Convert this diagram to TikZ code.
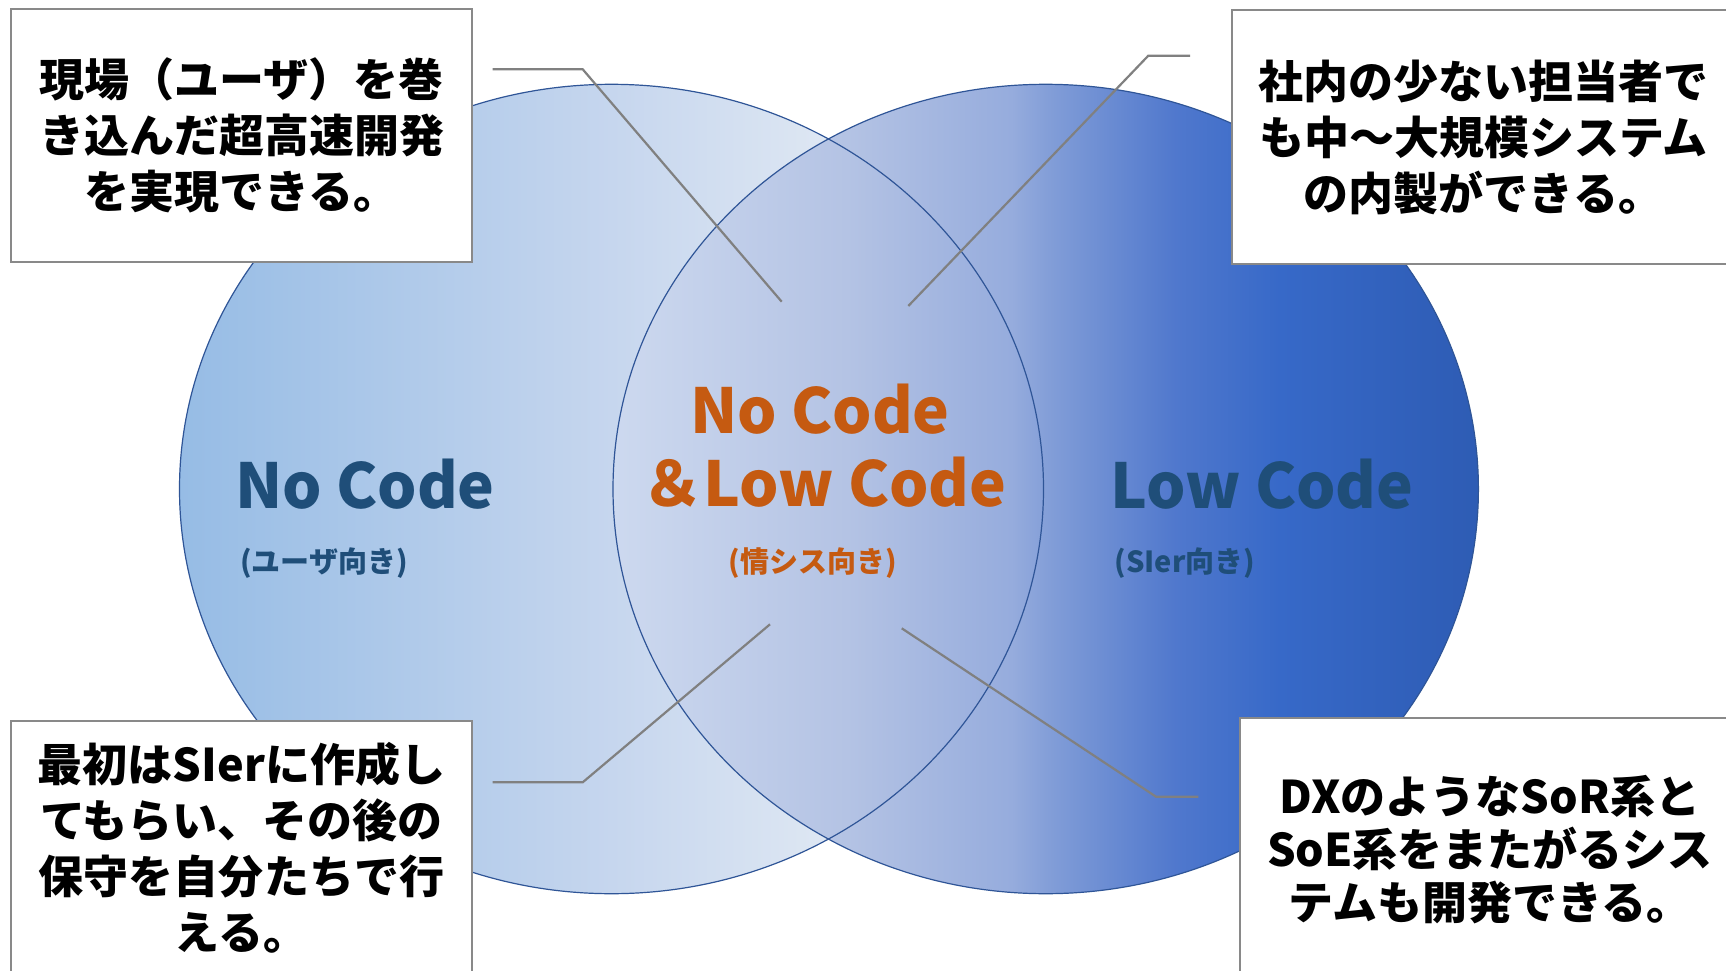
\documentclass[tikz,border=0pt]{standalone}
\usepackage{fontspec}
\setmainfont{Noto Sans CJK JP}
\definecolor{lblue}{RGB}{31,78,121}
\definecolor{lorange}{RGB}{197,90,17}
\definecolor{edgeblue}{RGB}{47,85,151}
\definecolor{lineg}{RGB}{128,128,128}
\definecolor{boxg}{RGB}{137,137,137}
\definecolor{La}{RGB}{150,188,229}
\definecolor{Lb}{RGB}{198,214,238}
\definecolor{Lc}{RGB}{222,231,243}
\definecolor{Ld}{RGB}{240,244,250}
\definecolor{Ra}{RGB}{205,217,239}
\definecolor{Rb}{RGB}{180,195,228}
\definecolor{Rc}{RGB}{150,172,221}
\definecolor{Rd}{RGB}{128,156,215}
\definecolor{Re}{RGB}{80,120,205}
\definecolor{Rf}{RGB}{55,105,200}
\definecolor{Rg}{RGB}{48,95,185}
\definecolor{Rh}{RGB}{46,92,180}
\pgfdeclarehorizontalshading{leftshade}{100bp}{color(0bp)=(La); color(25bp)=(La); color(50bp)=(Lb); color(62.5bp)=(Lc); color(75bp)=(Ld); color(100bp)=(Ld)}
\pgfdeclarehorizontalshading{rightshade}{100bp}{color(0bp)=(Ra); color(25bp)=(Ra); color(38.5bp)=(Rb); color(48bp)=(Rc); color(50.5bp)=(Rd); color(57.5bp)=(Re); color(63.5bp)=(Rf); color(72bp)=(Rg); color(75bp)=(Rh); color(100bp)=(Rh)}
\begin{document}
\begin{tikzpicture}[x=1pt,y=-1pt,
  box/.style={draw=boxg, line width=2pt, fill=white, align=center, inner sep=0pt,
    font=\bfseries\fontsize{45}{56}\selectfont},
  conn/.style={draw=lineg, line width=2.2pt},
  big/.style={font=\bfseries\fontsize{62}{70}\selectfont, anchor=base, inner sep=0pt},
  small/.style={font=\bfseries\fontsize{29}{32}\selectfont, anchor=base, inner sep=0pt},
  rim/.style={draw=edgeblue, line width=1.2pt}
]
\useasboundingbox (0,0) rectangle (1726,971);
\fill[white] (0,0) rectangle (1726,971);
\clip (0,0) rectangle (1726,971);
% circles
\path[shading=leftshade]
  (611.5,489) ellipse [x radius=432pt, y radius=404.7pt];
\path[shading=rightshade]
  (1045.7,489) ellipse [x radius=432.7pt, y radius=404.7pt];
\path[rim] (611.5,489) ellipse [x radius=432pt, y radius=404.7pt];
\path[rim] (1045.7,489) ellipse [x radius=432.7pt, y radius=404.7pt];
% labels
\node[big, text=lblue] (nc) at (365,508.3) {No Code};
\node[small, text=lblue] (ncs) at (324,572) {(ユーザ向き)};
\node[big, text=lorange] (midA) at (820,433.3) {No Code};
\node[big, text=lorange] (midB) at (824,506.7) {＆Low Code};
\node[small, text=lorange] (mids) at (812.8,572) {(情シス向き)};
\node[big, text=lblue] (lc) at (1262,508.3) {Low Code};
\node[small, text=lblue] (lcs) at (1185,572) {(SIer向き)};
% connectors
\coordinate (c1a) at (492.7,69.3);
\coordinate (c1b) at (582.7,69.3);
\coordinate (c1c) at (781.7,301.7);
\coordinate (c2a) at (1190,55.7);
\coordinate (c2b) at (1148.3,55.7);
\coordinate (c2c) at (908.3,306);
\coordinate (c3a) at (492.7,782.3);
\coordinate (c3b) at (582.7,782.3);
\coordinate (c3c) at (770,624.3);
\coordinate (c4a) at (1198.3,796.7);
\coordinate (c4b) at (1156,796.7);
\coordinate (c4c) at (901.7,628.3);
\draw[conn] (c1a) -- (c1b) -- (c1c);
\draw[conn] (c2a) -- (c2b) -- (c2c);
\draw[conn] (c3a) -- (c3b) -- (c3c);
\draw[conn] (c4a) -- (c4b) -- (c4c);
% boxes
\node[box, minimum width=461pt, minimum height=253pt] (b1) at (241.5,135.5)
  {現場（ユーザ）を巻\\き込んだ超高速開発\\を実現できる。};
\node[box, minimum width=503pt, minimum height=253pt] (b2) at (1483.5,137)
  {社内の少ない担当者で\\も中～大規模システム\\の内製ができる。};
\node[box, minimum width=461pt, minimum height=254pt] (b3) at (241.5,848)
  {最初はSIerに作成し\\てもらい、その後の\\保守を自分たちで行\\える。};
\node[box, minimum width=500pt, minimum height=264pt,
  font=\bfseries\fontsize{45}{53}\selectfont] (b4) at (1490,850)
  {DXのようなSoR系と\\SoE系をまたがるシス\\テムも開発できる。};
\end{tikzpicture}
\end{document}
